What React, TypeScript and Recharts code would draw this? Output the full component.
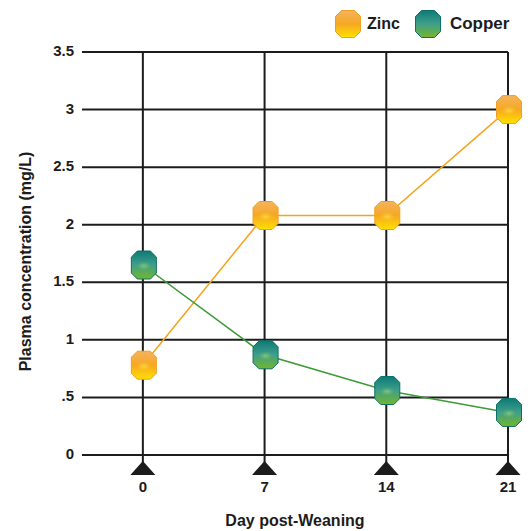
import React from "react";
import { LineChart, Line, XAxis, YAxis, CartesianGrid, Label, ReferenceLine } from "recharts";

const days = [0, 7, 14, 21];
const zinc = [0.78, 2.08, 2.08, 3.0];
const copper = [1.65, 0.87, 0.56, 0.37];
const yTicks = [0, 0.5, 1, 1.5, 2, 2.5, 3, 3.5];
const yTickLabels = ["0", ".5", "1", "1.5", "2", "2.5", "3", "3.5"];

const data = days.map((d, i) => ({ day: d, zinc: zinc[i], copper: copper[i] }));

const FONT = "'Liberation Sans', Arial, sans-serif";
const INK = "#1c1c1c";

// Chamfered marker, roughly a hexagonal cylinder seen from the front
function markerPath(cx: number, cy: number, w: number, h: number) {
  const c = 6;
  const l = cx - w / 2, r = cx + w / 2, t = cy - h / 2, b = cy + h / 2;
  return `M${l + c},${t} L${r - c},${t} L${r},${t + c} L${r},${b - c} L${r - c},${b} L${l + c},${b} L${l},${b - c} L${l},${t + c} Z`;
}

function makeDot(kind: "zinc" | "copper") {
  return (props: any) => {
    const { cx, cy, index } = props;
    if (cx == null || cy == null) return <g key={`${kind}-${index}`} />;
    const stroke = kind === "zinc" ? "#f0a020" : "#0b6f6a";
    return (
      <g key={`${kind}-${index}`}>
        <path d={markerPath(cx + 1, cy, 25, 28)} fill={`url(#grad-${kind})`} stroke={stroke} strokeWidth={1} />
        <path d={markerPath(cx + 1, cy + 1, 17, 10)} fill={`url(#glow-${kind})`} opacity={0.55} />
      </g>
    );
  };
}

function LegendIcon({ kind }: { kind: "zinc" | "copper" }) {
  const stroke = kind === "zinc" ? "#f0a020" : "#0b6f6a";
  return (
    <svg width={28} height={28} style={{ display: "block" }}>
      <defs>
        <linearGradient id={`lg-${kind}`} x1="0" y1="0" x2="0" y2="1">
          {kind === "zinc" ? (
            <>
              <stop offset="0%" stopColor="#f4b35e" />
              <stop offset="50%" stopColor="#f6a823" />
              <stop offset="100%" stopColor="#ffe000" />
            </>
          ) : (
            <>
              <stop offset="0%" stopColor="#0d7a76" />
              <stop offset="50%" stopColor="#3f9f8a" />
              <stop offset="100%" stopColor="#74b62a" />
            </>
          )}
        </linearGradient>
      </defs>
      <path d={markerPath(14, 14, 25, 27)} fill={`url(#lg-${kind})`} stroke={stroke} strokeWidth={1} />
    </svg>
  );
}

const XTick = (props: any) => {
  const { x, y, payload } = props;
  const top = y - 2;
  return (
    <g>
      <line x1={x} y1={top - 6} x2={x} y2={top + 4} stroke={INK} strokeWidth={2} />
      <path d={`M${x},${top} L${x + 12.5},${top + 14} L${x - 12.5},${top + 14} Z`} fill={INK} />
      <text x={x} y={top + 31} textAnchor="middle" fontFamily={FONT} fontWeight="bold" fontSize={15} fill={INK}>
        {payload.value}
      </text>
    </g>
  );
};

const YTick = (props: any) => {
  const { x, y, payload } = props;
  const idx = yTicks.indexOf(payload.value);
  return (
    <text x={x} y={y} dy={4} textAnchor="end" fontFamily={FONT} fontWeight="bold" fontSize={15} fill={INK}>
      {idx >= 0 ? yTickLabels[idx] : payload.value}
    </text>
  );
};

// Rotated y-axis title, a little below the plot's middle
const YTitle = (props: any) => {
  const vb = props.viewBox || {};
  const cx = (vb.x ?? 0) + 25;
  const cy = (vb.y ?? 0) + (vb.height ?? 0) / 2 + 8;
  return (
    <text
      x={cx}
      y={cy}
      transform={`rotate(-90, ${cx}, ${cy})`}
      textAnchor="middle"
      dominantBaseline="central"
      fontFamily={FONT}
      fontWeight="bold"
      fontSize={16}
      fill={INK}
    >
      Plasma concentration (mg/L)
    </text>
  );
};

export default function App() {
  return (
    <div style={{ position: "absolute", left: 0, top: 0, width: 531, height: 531, background: "#fff" }}>
      <div style={{ position: "absolute", top: 10, left: 334, display: "flex", alignItems: "center", fontFamily: FONT, fontWeight: "bold", fontSize: 16, color: INK }}>
        <LegendIcon kind="zinc" />
        <span style={{ marginLeft: 5, marginRight: 14 }}>Zinc</span>
        <LegendIcon kind="copper" />
        <span style={{ marginLeft: 8, fontSize: 17 }}>Copper</span>
      </div>
      <div style={{ position: "absolute", left: 0, top: 0 }}>
        <LineChart width={531} height={531} data={data} margin={{ top: 52, right: 23, bottom: 0, left: 0 }}>
          <defs>
            <linearGradient id="grad-zinc" x1="0" y1="0" x2="0" y2="1">
              <stop offset="0%" stopColor="#f4b35e" />
              <stop offset="50%" stopColor="#f6a823" />
              <stop offset="100%" stopColor="#ffe000" />
            </linearGradient>
            <linearGradient id="grad-copper" x1="0" y1="0" x2="0" y2="1">
              <stop offset="0%" stopColor="#0d7a76" />
              <stop offset="50%" stopColor="#3f9f8a" />
              <stop offset="100%" stopColor="#74b62a" />
            </linearGradient>
            <radialGradient id="glow-zinc">
              <stop offset="0%" stopColor="#fff36a" />
              <stop offset="100%" stopColor="#ffd000" stopOpacity={0} />
            </radialGradient>
            <radialGradient id="glow-copper">
              <stop offset="0%" stopColor="#b9e38a" />
              <stop offset="100%" stopColor="#6ab540" stopOpacity={0} />
            </radialGradient>
          </defs>
          <CartesianGrid stroke={INK} strokeWidth={2} vertical={false} />
          {/* vertical rules only on the day ticks */}
          {days.map((d) => (
            <ReferenceLine key={`v-${d}`} x={d} stroke={INK} strokeWidth={2} />
          ))}
          <XAxis
            dataKey="day"
            type="number"
            domain={[-3.5, 21]}
            ticks={days}
            axisLine={false}
            tickLine={false}
            tick={<XTick />}
            height={76}
            interval={0}
          >
            <Label
              value="Day post-Weaning"
              position="insideBottom"
              offset={5}
              style={{ fontFamily: FONT, fontWeight: "bold", fontSize: 16, fill: INK }}
            />
          </XAxis>
          <YAxis
            type="number"
            domain={[0, 3.5]}
            ticks={yTicks}
            axisLine={false}
            tickLine={false}
            tick={<YTick />}
            width={82}
            interval={0}
          >
            <Label content={<YTitle />} />
          </YAxis>
          <Line
            dataKey="zinc"
            stroke="#f5a31a"
            strokeWidth={1.5}
            dot={makeDot("zinc")}
            activeDot={false}
            isAnimationActive={false}
          />
          <Line
            dataKey="copper"
            stroke="#3d9a36"
            strokeWidth={1.5}
            dot={makeDot("copper")}
            activeDot={false}
            isAnimationActive={false}
          />
        </LineChart>
      </div>
    </div>
  );
}
